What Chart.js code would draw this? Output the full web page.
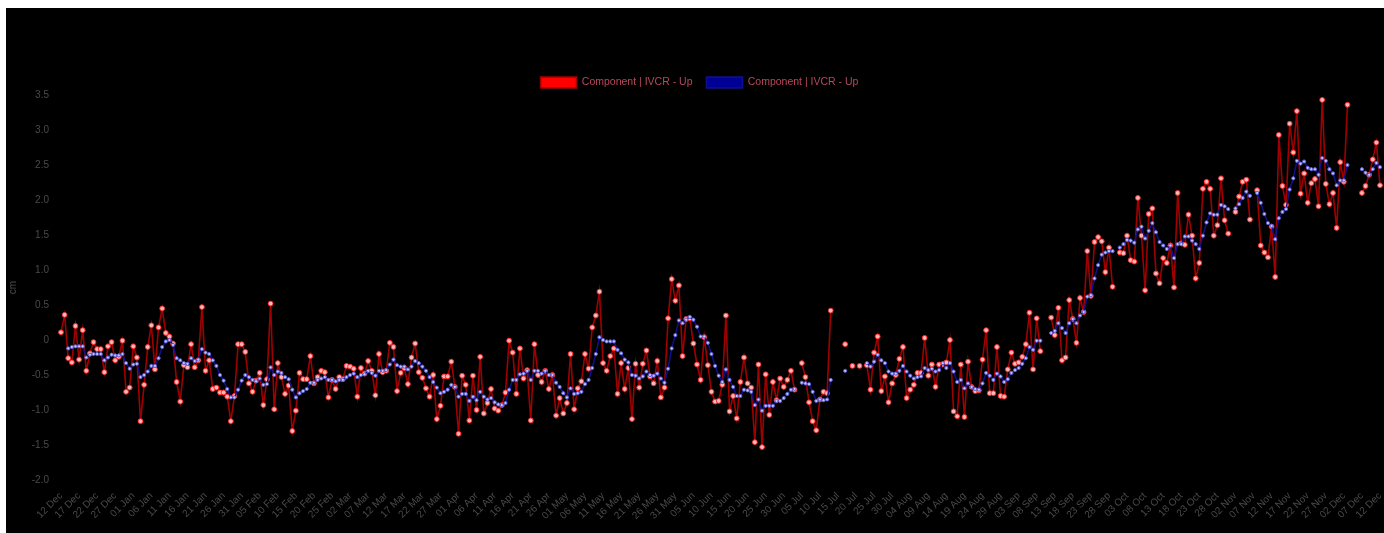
<!DOCTYPE html>
<html>
<head>
<meta charset="utf-8">
<script src="https://cdn.jsdelivr.net/npm/chart.js@4.4.1/dist/chart.umd.min.js"></script>
<style>
  html, body { margin: 0; padding: 0; background: #fff; overflow: hidden; width: 1384px; height: 533px; }
  #wrap { position: absolute; left: 6px; top: 8px; width: 1388px; height: 525px; background: #000; }
  canvas { display: block; }
</style>
</head>
<body>
<div id="wrap"><canvas id="chart" width="1388" height="525"></canvas></div>
<script>
// Daily readings, 12 Dec 2021 .. 12 Dec 2022 (null = no reading that day)
const seriesName = 'Component | IVCR - Up';
const startDay = [2021, 11, 12];
const monthNames = ['Jan', 'Feb', 'Mar', 'Apr', 'May', 'Jun', 'Jul', 'Aug', 'Sep', 'Oct', 'Nov', 'Dec'];
const yTicks = [-2.0, -1.5, -1.0, -0.5, 0, 0.5, 1.0, 1.5, 2.0, 2.5, 3.0, 3.5];
const labelEvery = 5;

// daily values
const redValues = [
  0.11, 0.36, -0.26, -0.32, 0.20, -0.28, 0.14, -0.44, -0.19, -0.03,
  -0.13, -0.13, -0.46, -0.09, -0.03, -0.29, -0.24, -0.01, -0.74, -0.68,
  -0.09, -0.25, -1.16, -0.64, -0.10, 0.21, -0.42, 0.18, 0.45, 0.10,
  0.05, -0.05, -0.60, -0.88, -0.36, -0.39, -0.06, -0.39, -0.29, 0.47,
  -0.44, -0.29, -0.70, -0.68, -0.75, -0.75, -0.81, -1.16, -0.80, -0.06,
  -0.06, -0.17, -0.62, -0.74, -0.58, -0.47, -0.93, -0.56, 0.52, -0.99,
  -0.33, -0.53, -0.77, -0.65, -1.30, -1.01, -0.47, -0.56, -0.56, -0.23,
  -0.62, -0.53, -0.44, -0.46, -0.82, -0.57, -0.70, -0.53, -0.56, -0.37,
  -0.38, -0.41, -0.81, -0.40, -0.48, -0.30, -0.44, -0.79, -0.20, -0.46,
  -0.44, -0.04, -0.10, -0.73, -0.47, -0.40, -0.63, -0.25, -0.05, -0.46,
  -0.54, -0.69, -0.81, -0.50, -1.13, -0.94, -0.52, -0.52, -0.31, -0.67,
  -1.34, -0.51, -0.64, -1.15, -0.51, -1.00, -0.24, -1.05, -0.90, -0.70,
  -0.98, -1.01, -0.93, -0.75, -0.01, -0.18, -0.77, -0.12, -0.55, -0.43,
  -1.15, -0.06, -0.50, -0.60, -0.44, -0.70, -0.50, -1.08, -0.83, -1.05,
  -0.90, -0.20, -0.99, -0.69, -0.59, -0.20, -0.41, 0.18, 0.35, 0.69,
  -0.33, -0.44, -0.23, -0.12, -0.77, -0.33, -0.70, -0.40, -1.13, -0.34,
  -0.68, -0.34, -0.15, -0.52, -0.62, -0.30, -0.82, -0.68, 0.31, 0.87,
  0.56, 0.78, -0.23, 0.30, 0.31, -0.05, -0.35, -0.57, 0.04, -0.36,
  -0.74, -0.88, -0.87, -0.64, 0.35, -1.02, -0.80, -1.12, -0.60, -0.25,
  -0.62, -0.68, -1.46, -0.35, -1.53, -0.49, -1.07, -0.60, -0.86, -0.55,
  -0.67, -0.57, -0.44, -0.71, null, -0.33, -0.53, -0.89, -1.16, -1.29,
  -0.85, -0.74, -0.76, 0.42, null, null, null, -0.06, null, -0.37,
  null, -0.37, null, -0.36, -0.71, -0.18, 0.05, -0.73, -0.52, -0.89,
  -0.62, -0.50, -0.27, -0.10, -0.83, -0.71, -0.64, -0.47, -0.47, 0.03,
  -0.51, -0.35, -0.67, -0.35, -0.35, -0.32, 0.00, -1.02, -1.09, -0.35,
  -1.10, -0.31, -0.67, -0.73, -0.72, -0.28, 0.14, -0.76, -0.76, -0.10,
  -0.80, -0.81, -0.42, -0.18, -0.34, -0.32, -0.24, -0.06, 0.39, -0.42,
  0.31, -0.16, null, null, 0.32, 0.07, 0.46, -0.29, -0.25, 0.57,
  0.30, -0.04, 0.60, 0.40, 1.27, 0.63, 1.40, 1.47, 1.41, 0.97,
  1.32, 0.76, null, 1.25, 1.24, 1.49, 1.14, 1.12, 2.03, 1.49,
  0.71, 1.80, 1.88, 0.95, 0.81, 1.17, 1.10, 1.35, 0.75, 2.10,
  1.38, 1.36, 1.79, 1.49, 0.88, 1.10, 2.16, 2.26, 2.16, 1.49,
  1.64, 2.31, 1.71, 1.52, null, 1.83, 2.05, 2.26, 2.29, 1.72,
  null, 2.14, 1.35, 1.25, 1.18, 1.62, 0.90, 2.93, 2.20, 1.93,
  3.09, 2.68, 3.27, 2.09, 2.38, 1.96, 2.24, 2.30, 1.91, 3.43,
  2.23, 1.94, 2.10, 1.60, 2.54, 2.26, 3.36, null, null, null,
  2.10, 2.20, 2.36, 2.58, 2.82, 2.21
];

// smoothed trend
const blueValues = [
  null, null, -0.12, -0.10, -0.09, -0.09, -0.09, -0.25, -0.21, -0.20,
  -0.20, -0.20, -0.29, -0.25, -0.21, -0.22, -0.22, -0.20, -0.33, -0.41,
  -0.35, -0.34, -0.53, -0.50, -0.45, -0.37, -0.37, -0.26, -0.10, -0.02,
  0.00, -0.07, -0.26, -0.29, -0.33, -0.34, -0.26, -0.30, -0.28, -0.13,
  -0.18, -0.20, -0.29, -0.37, -0.50, -0.58, -0.70, -0.82, -0.82, -0.71,
  -0.58, -0.50, -0.53, -0.57, -0.59, -0.55, -0.64, -0.63, -0.39, -0.50,
  -0.45, -0.47, -0.53, -0.56, -0.71, -0.82, -0.76, -0.73, -0.70, -0.61,
  -0.61, -0.57, -0.55, -0.53, -0.57, -0.57, -0.59, -0.57, -0.57, -0.53,
  -0.50, -0.48, -0.53, -0.50, -0.49, -0.44, -0.47, -0.51, -0.44, -0.44,
  -0.43, -0.35, -0.28, -0.36, -0.38, -0.38, -0.42, -0.38, -0.30, -0.33,
  -0.38, -0.44, -0.53, -0.60, -0.68, -0.76, -0.74, -0.71, -0.64, -0.67,
  -0.81, -0.77, -0.77, -0.87, -0.81, -0.86, -0.74, -0.81, -0.85, -0.83,
  -0.89, -0.92, -0.93, -0.90, -0.71, -0.57, -0.57, -0.49, -0.48, -0.44,
  -0.57, -0.44, -0.44, -0.48, -0.44, -0.50, -0.50, -0.61, -0.67, -0.76,
  -0.82, -0.69, -0.77, -0.76, -0.74, -0.63, -0.57, -0.40, -0.20, 0.04,
  0.00, -0.02, -0.02, -0.02, -0.14, -0.19, -0.28, -0.32, -0.50, -0.51,
  -0.55, -0.52, -0.45, -0.50, -0.51, -0.48, -0.55, -0.61, -0.41, -0.12,
  0.07, 0.28, 0.24, 0.29, 0.33, 0.29, 0.19, 0.05, 0.05, -0.04,
  -0.20, -0.37, -0.51, -0.60, -0.42, -0.57, -0.67, -0.80, -0.80, -0.71,
  -0.72, -0.74, -0.93, -0.85, -1.01, -0.94, -0.94, -0.94, -0.87, -0.87,
  -0.83, -0.77, -0.71, -0.70, null, -0.61, -0.62, -0.63, -0.74, -0.87,
  -0.85, -0.86, -0.85, -0.57, null, null, null, -0.44, null, null,
  null, null, null, -0.33, -0.38, -0.31, -0.21, -0.29, -0.33, -0.45,
  -0.48, -0.48, -0.44, -0.37, -0.45, -0.51, -0.55, -0.53, -0.52, -0.40,
  -0.43, -0.41, -0.45, -0.43, -0.33, -0.40, -0.33, -0.45, -0.60, -0.57,
  -0.69, -0.62, -0.67, -0.70, -0.71, -0.62, -0.47, -0.51, -0.57, -0.48,
  -0.52, -0.60, -0.56, -0.47, -0.43, -0.40, -0.34, -0.26, -0.10, -0.14,
  -0.01, -0.01, null, null, 0.10, 0.13, 0.24, 0.17, 0.10, 0.24,
  0.30, 0.24, 0.35, 0.40, 0.62, 0.64, 0.88, 1.07, 1.22, 1.25,
  1.27, 1.27, null, 1.32, 1.37, 1.43, 1.42, 1.39, 1.58, 1.62,
  1.45, 1.56, 1.67, 1.54, 1.40, 1.35, 1.30, 1.35, 1.17, 1.37,
  1.37, 1.48, 1.48, 1.42, 1.37, 1.30, 1.49, 1.68, 1.81, 1.79,
  1.79, 1.93, 1.91, 1.87, null, 1.88, 1.94, 2.03, 2.12, 2.06,
  null, 2.10, 1.96, 1.80, 1.67, 1.63, 1.44, 1.74, 1.83, 1.87,
  2.15, 2.31, 2.56, 2.52, 2.55, 2.46, 2.44, 2.44, 2.36, 2.60,
  2.56, 2.44, 2.38, 2.21, 2.28, 2.28, 2.50, null, null, null,
  2.44, 2.39, 2.36, 2.44, 2.53, 2.47
];

// one category per day
const dayLabels = [];
const t0 = Date.UTC(startDay[0], startDay[1], startDay[2]);
for (let i = 0; i < redValues.length; i++) {
  const d = new Date(t0 + i * 86400000);
  dayLabels.push(String(d.getUTCDate()).padStart(2, '0') + ' ' + monthNames[d.getUTCMonth()]);
}

const FONT = 'Liberation Sans, Arial, Helvetica, sans-serif';
const tickColor = '#4a4a4a';

new Chart(document.getElementById('chart'), {
  type: 'line',
  data: {
    labels: dayLabels,
    datasets: [
      {
        label: seriesName,
        data: redValues,
        borderColor: '#a00000',
        backgroundColor: '#ff0000',
        borderWidth: 1.6,
        pointRadius: 2.4,
        pointBackgroundColor: '#ffb8b8',
        pointBorderColor: '#ff2a2a',
        pointBorderWidth: 1,
        tension: 0,
        spanGaps: false,
        order: 1
      },
      {
        label: seriesName,
        data: blueValues,
        borderColor: '#10108c',
        backgroundColor: '#000096',
        borderWidth: 1.5,
        pointRadius: 1.6,
        pointBackgroundColor: '#c4c4ff',
        pointBorderColor: '#5a5ad6',
        pointBorderWidth: 1,
        tension: 0,
        spanGaps: false,
        order: 0
      }
    ]
  },
  options: {
    responsive: false,
    animation: false,
    events: [],
    layout: { padding: { top: 55, left: 13, right: 14, bottom: 0 } },
    plugins: {
      tooltip: { enabled: false },
      legend: {
        position: 'top',
        maxHeight: 32,
        labels: {
          boxWidth: 36,
          boxHeight: 11,
          padding: 14,
          color: '#b8485c',
          font: { family: FONT, size: 10.5 },
          sort: (a, b) => a.datasetIndex - b.datasetIndex
        }
      }
    },
    scales: {
      x: {
        type: 'category',
        grid: { display: false },
        border: { display: false },
        afterFit: (s) => { s.height = 53; },
        ticks: {
          autoSkip: false,
          maxRotation: 45,
          minRotation: 45,
          padding: 2,
          color: tickColor,
          font: { family: FONT, size: 10 },
          callback: (v, i) => (i % labelEvery === 0 ? dayLabels[i] : null)
        }
      },
      y: {
        min: yTicks[0],
        max: yTicks[yTicks.length - 1],
        grid: { display: false },
        border: { display: false },
        afterFit: (s) => { s.width = 42; },
        afterBuildTicks: (s) => { s.ticks = yTicks.map(v => ({ value: v })); },
        title: {
          display: true,
          text: 'cm',
          color: tickColor,
          font: { family: FONT, size: 10 },
          padding: { top: -12, bottom: 0 }
        },
        ticks: {
          padding: 4,
          color: tickColor,
          font: { family: FONT, size: 10 },
          callback: (v) => (v === 0 ? '0' : Number(v).toFixed(1))
        }
      }
    }
  }
});
</script>
</body>
</html>
